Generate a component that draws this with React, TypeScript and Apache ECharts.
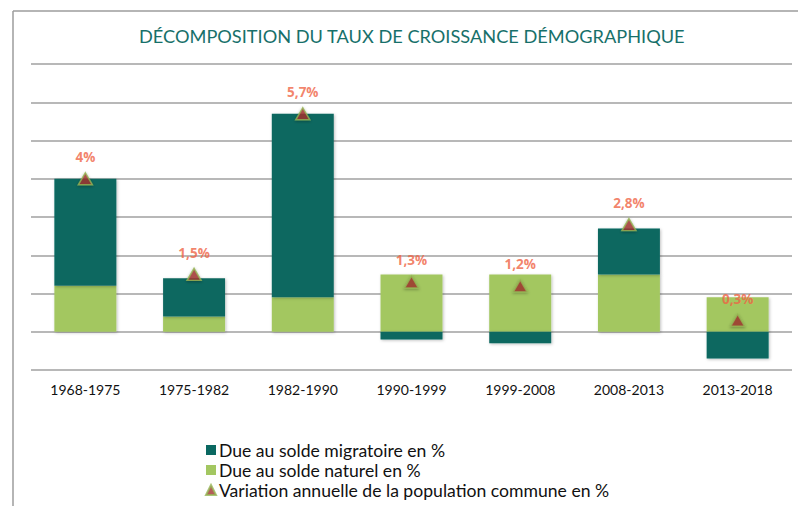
import React, { useEffect, useRef } from "react";
import * as echarts from "echarts";

const categories = ["1968-1975", "1975-1982", "1982-1990", "1990-1999", "1999-2008", "2008-2013", "2013-2018"];
const soldeNaturel = [1.2, 0.4, 0.9, 1.5, 1.5, 1.5, 0.9];
const soldeMigratoire = [2.8, 1.0, 4.8, -0.2, -0.3, 1.2, -0.7];
const variationAnnuelle = [4, 1.5, 5.7, 1.3, 1.2, 2.8, 0.3];

const FONT = "Lato, 'DejaVu Sans', sans-serif";

export default function App() {
  const ref = useRef<HTMLDivElement>(null);
  useEffect(() => {
    if (!ref.current) return;
    const chart = echarts.init(ref.current, null, { renderer: "svg" });
    const frameColor = "#9c9c9c";
    chart.setOption({
      animation: false,
      backgroundColor: "#ffffff",
      title: {
        text: "DÉCOMPOSITION DU TAUX DE CROISSANCE DÉMOGRAPHIQUE",
        left: 134,
        top: 22,
        textStyle: { color: "#17706a", fontFamily: FONT, fontSize: 18.2, fontWeight: "normal" },
      },
      graphic: [
        { type: "line", shape: { x1: 13, y1: 11, x2: 798, y2: 11 }, style: { stroke: frameColor, lineWidth: 1.5 } },
        { type: "line", shape: { x1: 13, y1: 11, x2: 13, y2: 506 }, style: { stroke: frameColor, lineWidth: 1.5 } },
      ],
      legend: {
        orient: "vertical",
        left: 205,
        top: 440,
        padding: 0,
        itemGap: 0,
        itemWidth: 10,
        itemHeight: 10,
        data: [
          { name: "Due au solde migratoire en %", icon: "rect" },
          { name: "Due au solde naturel en %", icon: "rect" },
          { name: "Variation annuelle de la population commune en %" },
        ],
        textStyle: { fontFamily: FONT, fontSize: 17.6, color: "#111", lineHeight: 20, padding: [0, 0, 0, -2] },
      },
      grid: { left: 31, right: 6, top: 64, bottom: 136 },
      xAxis: {
        type: "category",
        data: categories,
        axisLine: { show: false },
        axisTick: { show: false },
        axisLabel: { fontFamily: FONT, fontSize: 14, color: "#111", margin: 12 },
      },
      yAxis: {
        type: "value",
        min: -1,
        max: 7,
        interval: 1,
        axisLabel: { show: false },
        axisLine: { show: false },
        axisTick: { show: false },
        splitLine: { lineStyle: { color: "#a0a0a0", width: 1.5 } },
      },
      series: [
        {
          name: "Due au solde naturel en %",
          type: "bar",
          stack: "total",
          barWidth: "57%",
          data: soldeNaturel,
          itemStyle: { color: "#a3c761", shadowBlur: 3, shadowColor: "rgba(0,0,0,0.25)", shadowOffsetX: 1, shadowOffsetY: 1 },
        },
        {
          name: "Due au solde migratoire en %",
          type: "bar",
          stack: "total",
          barWidth: "57%",
          data: soldeMigratoire,
          itemStyle: { color: "#0a6861", shadowBlur: 3, shadowColor: "rgba(0,0,0,0.25)", shadowOffsetX: 1, shadowOffsetY: 1 },
        },
        {
          name: "Variation annuelle de la population commune en %",
          type: "scatter",
          symbol: "triangle",
          symbolSize: [14, 12],
          data: variationAnnuelle,
          z: 5,
          itemStyle: {
            color: "#a3352f",
            borderColor: "#95b655",
            borderWidth: 1.5,
            shadowBlur: 3,
            shadowColor: "rgba(0,0,0,0.35)",
            shadowOffsetY: 1,
          },
          label: {
            show: true,
            position: "top",
            distance: 8,
            formatter: (p: any) => String(p.value).replace(".", ",") + "%",
            color: "#ef6445",
            fontFamily: "'Open Sans', Lato, sans-serif",
            fontWeight: "bold",
            fontSize: 13.5,
          },
        },
      ],
    });
    return () => chart.dispose();
  }, []);
  return <div ref={ref} style={{ position: "fixed", left: 0, top: 0, width: 798, height: 506 }} />;
}
